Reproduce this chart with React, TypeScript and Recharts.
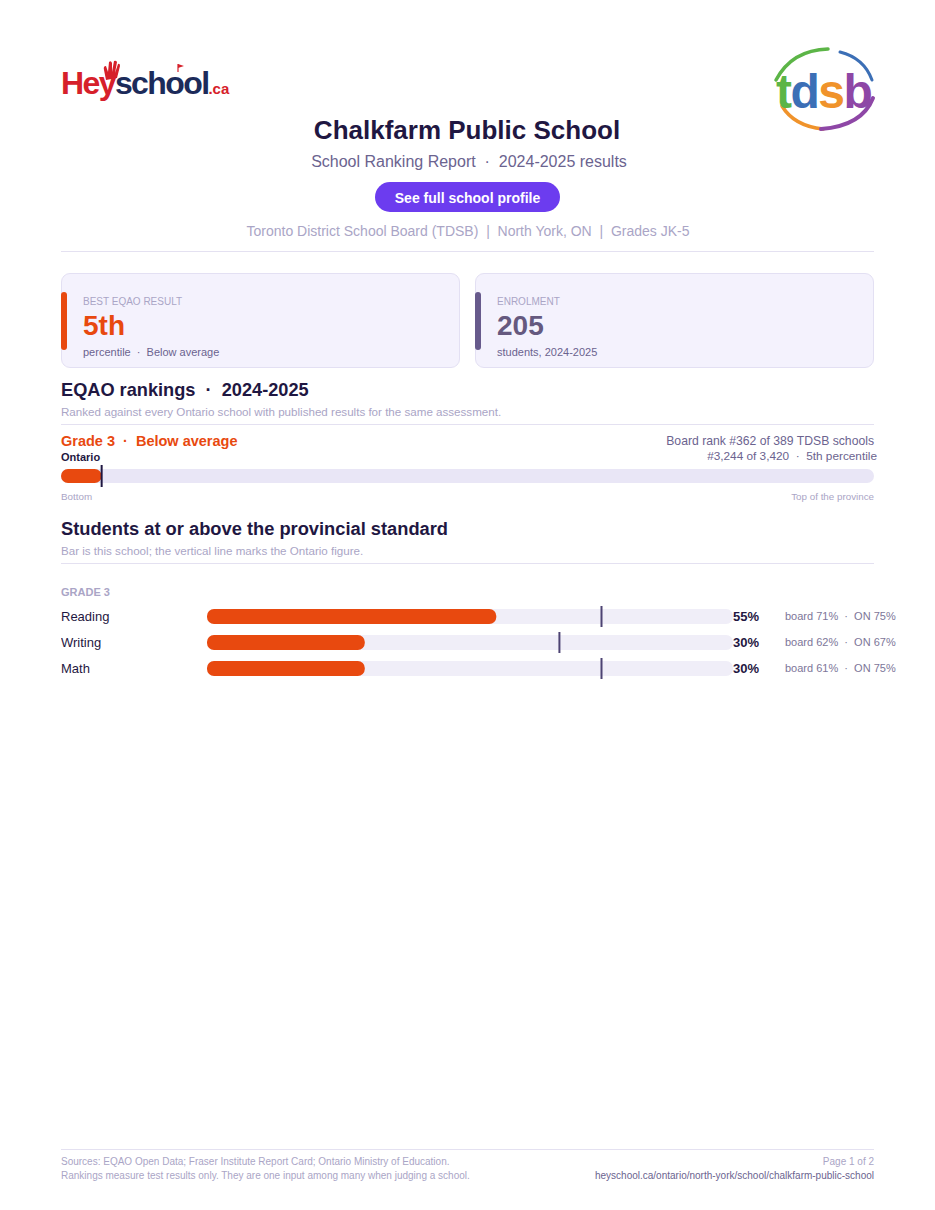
import React from 'react';
import { BarChart, Bar, XAxis, YAxis, ReferenceLine } from 'recharts';

const FONT = '"Liberation Sans", Arial, Helvetica, sans-serif';
const DARK = '#1f1742';
const ORANGE = '#e8490f';
const SUB = '#6b638f';
const MUTED = '#aaa5c6';
const DIV = '#e4e1f1';

// ---- data ----
const subjects = ['Reading', 'Writing', 'Math'];
const schoolPct = [55, 30, 30];
const boardPct = [71, 62, 61];
const ontarioPct = [75, 67, 75];

const percentileLabels = ['Ontario'];
const percentileValues = [5];

const standardData = subjects.map((s, i) => ({
  subject: s,
  school: schoolPct[i],
  board: boardPct[i],
  on: ontarioPct[i],
}));
const percentileData = percentileLabels.map((l, i) => ({ name: l, pct: percentileValues[i] }));

type TP = {
  x: number; y: number; size: number; color?: string; weight?: number | string;
  anchor?: 'start' | 'middle' | 'end'; children: React.ReactNode; spacing?: number;
};
const T = ({ x, y, size, color = DARK, weight = 400, anchor = 'start', children, spacing }: TP) => (
  <div
    style={{
      position: 'absolute',
      left: x,
      top: y - size * 0.54 + 1.5,
      fontSize: size,
      lineHeight: `${size}px`,
      color,
      fontWeight: weight as any,
      whiteSpace: 'nowrap',
      letterSpacing: spacing,
      transform: anchor === 'middle' ? 'translateX(-50%)' : anchor === 'end' ? 'translateX(-100%)' : undefined,
    }}
  >
    {children}
  </div>
);

const HLine = ({ y }: { y: number }) => (
  <div style={{ position: 'absolute', left: 61, width: 813, top: y, height: 1, background: DIV }} />
);

const Card = ({ x, accent, label, value, valueColor, sub }: any) => (
  <div
    style={{
      position: 'absolute', left: x, top: 273, width: 399, height: 95, boxSizing: 'border-box',
      background: '#f4f2fd', border: '1px solid #e3e0f3', borderRadius: 9,
    }}
  >
    <div style={{ position: 'absolute', left: -1, top: 18, width: 6, height: 58, background: accent, borderRadius: 3 }} />
    <T x={21} y={26.5} size={10} color={MUTED}>{label}</T>
    <T x={21} y={52} size={28} color={valueColor} weight={700}>{value}</T>
    <T x={21} y={77} size={11} color={SUB}>{sub}</T>
  </div>
);

const LeftTick = (props: any) => (
  <text x={0} y={props.y} dy={4.5} textAnchor="start" fontSize={13} fill={DARK} fontFamily={FONT}>
    {props.payload.value}
  </text>
);

const RightTick = (props: any) => {
  const d = standardData[props.index];
  return (
    <g>
      <text x={props.x} y={props.y} dy={4.5} textAnchor="start" fontSize={13} fontWeight={700} fill={DARK} fontFamily={FONT}>
        {`${d.school}%`}
      </text>
      <text x={props.x + 52} y={props.y} dy={4} textAnchor="start" fontSize={11} fill="#7d7699" fontFamily={FONT}>
        {`board ${d.board}%\u00a0 ·\u00a0 ON ${d.on}%`}
      </text>
    </g>
  );
};

const Marker = (props: any) => {
  const { x, y, width, height } = props;
  return <line x1={x + width} x2={x + width} y1={y - 3} y2={y + height + 3} stroke="#4d4373" strokeWidth={2} />;
};

const TdsbLogo = () => (
  <svg style={{ position: 'absolute', left: 770, top: 44 }} width={110} height={92} viewBox="770 44 110 92">
    <path d="M776 80 Q792 50 828 49" fill="none" stroke="#5cb547" strokeWidth={3.5} strokeLinecap="round" />
    <path d="M840 52 Q864 58 872 80" fill="none" stroke="#3c6fb6" strokeWidth={3} strokeLinecap="round" />
    <path d="M782 106 Q794 126 823 129" fill="none" stroke="#f0932b" strokeWidth={3.5} strokeLinecap="round" />
    <path d="M821 129 Q862 126 873 98" fill="none" stroke="#8e47a6" strokeWidth={4} strokeLinecap="round" />
    <text x={776} y={108} fontSize={48} fontWeight={700} fontFamily={FONT} letterSpacing={-1.5}>
      <tspan fill="#5cb547">t</tspan>
      <tspan fill="#3c6fb6">d</tspan>
      <tspan fill="#f0932b">s</tspan>
      <tspan fill="#8e47a6">b</tspan>
    </text>
  </svg>
);

const HeyLogo = () => (
  <svg style={{ position: 'absolute', left: 55, top: 55 }} width={180} height={50} viewBox="55 55 180 50">
    <path d="M106 80 L104 70 Q103 66 106 66 L108 72 L109 62 Q111 60 112 63 L112 72 L114 61 Q116 60 117 62 L115 73 L118 64 Q120 63 120 66 L117 78 Z" fill="#d6202a" />
    <path d="M178 64 L178 72" stroke="#d6202a" strokeWidth={1.2} />
    <path d="M178 64 L184 66 L178 68 Z" fill="#d6202a" />
    <text x={61} y={94} fontSize={32} fontWeight={700} fontFamily={FONT} letterSpacing={-1.6}>
      <tspan fill="#d6202a">Hey</tspan>
      <tspan fill="#1c2b5a">school</tspan>
      <tspan fill="#d6202a" fontSize={15} letterSpacing={0}>.ca</tspan>
    </text>
  </svg>
);

export default function App() {
  return (
    <div style={{ position: 'absolute', left: 0, top: 0, width: 935, height: 1210, background: '#fff', fontFamily: FONT, overflow: 'hidden' }}>
      <HeyLogo />
      <TdsbLogo />

      <T x={467} y={130} size={26} weight={700} anchor="middle">Chalkfarm Public School</T>
      <T x={469} y={161} size={16} color={SUB} anchor="middle">School Ranking Report&nbsp; ·&nbsp; 2024-2025 results</T>
      <div
        style={{
          position: 'absolute', left: 375, top: 182, width: 185, height: 30, borderRadius: 15,
          background: '#6c3cef', color: '#fff', fontSize: 14, fontWeight: 700, lineHeight: '32px', textAlign: 'center',
        }}
      >
        See full school profile
      </div>
      <T x={468} y={230} size={14} color={MUTED} anchor="middle">Toronto District School Board (TDSB)&nbsp; |&nbsp; North York, ON&nbsp; |&nbsp; Grades JK-5</T>
      <HLine y={251} />

      <Card x={61} accent={ORANGE} label="BEST EQAO RESULT" value="5th" valueColor={ORANGE} sub={<span>percentile&nbsp; ·&nbsp; Below average</span>} />
      <Card x={475} accent="#675a8c" label="ENROLMENT" value="205" valueColor="#65597f" sub="students, 2024-2025" />

      <T x={61} y={389} size={18.2} weight={700}>EQAO rankings&nbsp; ·&nbsp; 2024-2025</T>
      <T x={61} y={411} size={11.6} color={MUTED}>Ranked against every Ontario school with published results for the same assessment.</T>
      <HLine y={424} />

      <T x={61} y={440} size={14.5} weight={700} color={ORANGE}>Grade 3&nbsp; ·&nbsp; Below average</T>
      <T x={61} y={456} size={11} weight={700}>Ontario</T>
      <T x={874} y={440} size={12.2} color={SUB} anchor="end">Board rank #362 of 389 TDSB schools</T>
      <T x={877} y={456} size={11.8} color={SUB} anchor="end">#3,244 of 3,420&nbsp; ·&nbsp; 5th percentile</T>

      <div style={{ position: 'absolute', left: 61, top: 465 }}>
        <BarChart width={813} height={22} data={percentileData} layout="vertical" margin={{ top: 0, right: 0, bottom: 0, left: 0 }}>
          <XAxis type="number" domain={[0, 100]} hide />
          <YAxis type="category" dataKey="name" hide />
          <Bar dataKey="pct" barSize={14} fill={ORANGE} radius={7} background={{ fill: '#e9e6f6', radius: 7 } as any} isAnimationActive={false} />
          <ReferenceLine x={percentileValues[0]} stroke={DARK} strokeWidth={2} />
        </BarChart>
      </div>
      <T x={61} y={496} size={9.8} color={MUTED}>Bottom</T>
      <T x={874} y={496} size={9.8} color={MUTED} anchor="end">Top of the province</T>

      <T x={61} y={528} size={18.3} weight={700}>Students at or above the provincial standard</T>
      <T x={61} y={550} size={11.6} color={MUTED}>Bar is this school; the vertical line marks the Ontario figure.</T>
      <HLine y={563} />
      <T x={61} y={591} size={11} weight={700} color={MUTED}>GRADE 3</T>

      <div style={{ position: 'absolute', left: 61, top: 603 }}>
        <BarChart width={839} height={78} data={standardData} layout="vertical" barGap={-15} margin={{ top: 0, right: 0, bottom: 0, left: 0 }}>
          <XAxis type="number" domain={[0, 100]} hide />
          <YAxis type="category" dataKey="subject" width={146} axisLine={false} tickLine={false} tickSize={0} tickMargin={0} tick={<LeftTick />} />
          <YAxis yAxisId="right" orientation="right" type="category" dataKey="subject" width={167} axisLine={false} tickLine={false} tickSize={0} tickMargin={0} tick={<RightTick />} />
          <Bar dataKey="school" barSize={15} fill={ORANGE} radius={7} background={{ fill: '#f0eef8', radius: 7 } as any} isAnimationActive={false} />
          <Bar dataKey="on" barSize={15} shape={<Marker />} isAnimationActive={false} />
        </BarChart>
      </div>

      <HLine y={1149} />
      <T x={61} y={1161} size={10} color={MUTED}>Sources: EQAO Open Data; Fraser Institute Report Card; Ontario Ministry of Education.</T>
      <T x={61} y={1175} size={10} color={MUTED}>Rankings measure test results only. They are one input among many when judging a school.</T>
      <T x={874} y={1161} size={10} color={MUTED} anchor="end">Page 1 of 2</T>
      <T x={874} y={1175} size={10} color={SUB} anchor="end">heyschool.ca/ontario/north-york/school/chalkfarm-public-school</T>
    </div>
  );
}
